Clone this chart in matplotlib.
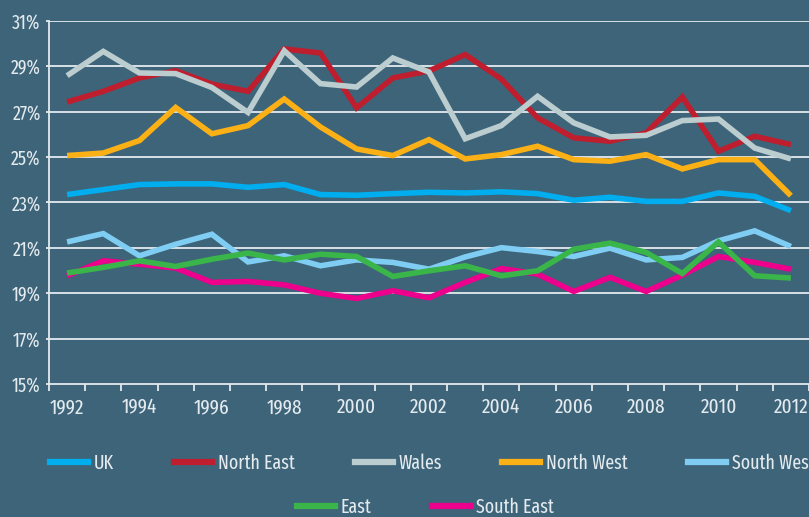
import numpy as np
import matplotlib
matplotlib.use("Agg")
import matplotlib.pyplot as plt
from matplotlib.lines import Line2D

years = list(range(1992, 2013))

uk = [23.35, 23.57, 23.79, 23.82, 23.82, 23.67, 23.79, 23.35, 23.32, 23.39, 23.45,
      23.42, 23.47, 23.39, 23.10, 23.23, 23.05, 23.05, 23.42, 23.27, 22.64]
north_east = [27.43, 27.90, 28.49, 28.81, 28.22, 27.90, 29.77, 29.59, 27.17, 28.49, 28.80,
              29.52, 28.44, 26.73, 25.85, 25.70, 26.07, 27.65, 25.26, 25.92, 25.55]
wales = [28.59, 29.66, 28.71, 28.68, 28.07, 26.97, 29.69, 28.24, 28.09, 29.37, 28.75,
         25.81, 26.39, 27.68, 26.51, 25.89, 25.96, 26.61, 26.68, 25.40, 24.92]
north_west = [25.07, 25.18, 25.73, 27.19, 26.03, 26.39, 27.56, 26.33, 25.36, 25.07, 25.77,
              24.92, 25.11, 25.48, 24.89, 24.82, 25.11, 24.48, 24.89, 24.89, 23.30]
south_west = [21.26, 21.63, 20.65, 21.16, 21.60, 20.38, 20.65, 20.21, 20.47, 20.36, 20.06,
              20.60, 21.01, 20.84, 20.62, 20.99, 20.47, 20.58, 21.31, 21.75, 21.06]
east = [19.89, 20.14, 20.43, 20.18, 20.50, 20.77, 20.47, 20.72, 20.62, 19.74, 19.99,
        20.21, 19.77, 19.99, 20.94, 21.21, 20.80, 19.87, 21.26, 19.77, 19.67]
south_east = [19.77, 20.43, 20.28, 20.11, 19.48, 19.52, 19.37, 19.00, 18.77, 19.11, 18.80,
              19.48, 20.09, 19.84, 19.08, 19.70, 19.08, 19.80, 20.62, 20.36, 20.06]

names = ["UK", "North East", "Wales", "North West", "South West", "East", "South East"]
colors = ["#00aeef", "#be1e2d", "#bccdd0", "#fbb116", "#80cdf3", "#39b54a", "#ec008c"]
order = [1, 2, 3, 4, 5, 7, 6]  # zorder, east sits over south east

bg = "#3e6479"
fg = "#e4ebef"
plt.rcParams['font.family'] = ['Fira Sans Extra Condensed', 'Barlow Condensed',
                               'Asap Condensed', 'DejaVu Sans']
fs = 14

fig = plt.figure(figsize=(8.09, 5.17), dpi=100, facecolor=bg)
ax = fig.add_axes([49 / 809, 133 / 517, 760 / 809, 363 / 517])
ax.set_facecolor(bg)

series = [uk, north_east, wales, north_west, south_west, east, south_east]
for vals, name, c, z in zip(series, names, colors, order):
    ax.plot(years, vals, color=c, lw=4, label=name, zorder=3 + z,
            solid_joinstyle='miter', solid_capstyle='butt')

ax.set_xlim(1991.5, 2012.44)
ax.set_ylim(15, 31)
ax.set_yticks(range(15, 32, 2))
ax.set_yticklabels([f"{v}%" for v in range(15, 32, 2)])
ax.set_xticks(range(1992, 2013, 2))
ax.set_xticks(np.arange(1991.5, 2013, 1), minor=True)

for y in range(17, 32, 2):
    ax.axhline(y, color=fg, lw=1.3, zorder=1)

for s in ["top", "right"]:
    ax.spines[s].set_visible(False)
for s in ["left", "bottom"]:
    ax.spines[s].set_color(fg)
    ax.spines[s].set_linewidth(1.3)

ax.tick_params(axis='y', colors=fg, labelsize=fs, length=2, width=1.3, pad=4)
ax.tick_params(axis='x', which='major', colors=fg, labelsize=15, length=0, pad=10)
ax.tick_params(axis='x', which='minor', colors=fg, length=5, width=1.3)

handles = [Line2D([], [], color=c, lw=4.5) for c in colors]
kw = dict(frameon=False, fontsize=fs, labelcolor=fg, handlelength=1.95,
          handletextpad=0.3, columnspacing=3.1, borderpad=0, borderaxespad=0,
          loc='center left')
fig.legend(handles[:5], names[:5], ncol=5, bbox_to_anchor=(50 / 809, 1 - 463 / 517), **kw)
fig.legend(handles[5:], names[5:], ncol=2, bbox_to_anchor=(297 / 809, 1 - 507 / 517), **kw)

fig.savefig("out.png", dpi=100, facecolor=bg)
